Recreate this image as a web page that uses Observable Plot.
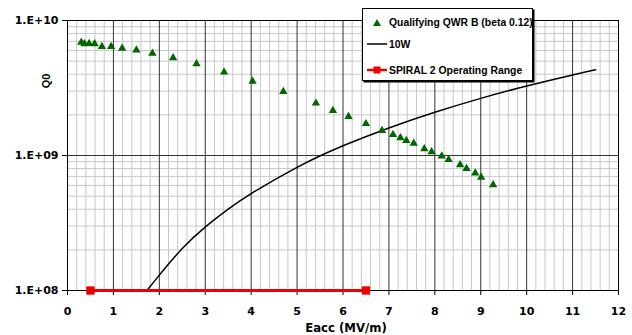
<!DOCTYPE html>
<html><head><meta charset="utf-8">
<script src="https://cdn.jsdelivr.net/npm/d3@7"></script>
<script src="https://cdn.jsdelivr.net/npm/@observablehq/plot@0.6"></script>
<style>
body{margin:0;background:#fff;}
#wrap{position:relative;width:632px;height:335px;}
#legend{position:absolute;left:362px;top:8px;width:171px;height:73px;border:1.5px solid #000;box-shadow:1.5px 1.5px 0 #000;background:#fff;box-sizing:border-box;font:bold 10.4px "Liberation Sans",Arial,sans-serif;color:#000;}
.row{position:absolute;left:2px;height:14px;display:flex;align-items:center;white-space:nowrap;}
.row svg{display:block;}
</style></head>
<body><div id="wrap"></div>
<script>
// Qualifying QWR B (beta 0.12): Eacc (MV/m) and Q0
const qwrE = [0.30,0.37,0.47,0.59,0.75,0.95,1.19,1.50,1.85,2.30,2.81,3.41,4.03,4.70,5.41,5.78,6.12,6.50,6.85,7.09,7.25,7.38,7.54,7.77,7.93,8.15,8.30,8.55,8.69,8.88,9.01,9.27];
const qwrQ = [6.9e9,6.72e9,6.75e9,6.72e9,6.42e9,6.40e9,6.23e9,6.03e9,5.72e9,5.29e9,4.78e9,4.14e9,3.55e9,2.98e9,2.44e9,2.15e9,1.94e9,1.72e9,1.53e9,1.43e9,1.35e9,1.29e9,1.23e9,1.12e9,1.065e9,9.9e8,9.34e8,8.53e8,8.01e8,7.4e8,6.9e8,6.07e8];
// 10W curve
const w10E = [1.73,2,2.5,3,3.5,4,5,6,7,8,9,10,11,11.5];
const w10Q = [1.0e8,1.30e8,2.05e8,2.95e8,4.0e8,5.22e8,8.17e8,1.18e9,1.6e9,2.09e9,2.65e9,3.27e9,3.95e9,4.31e9];
// SPIRAL 2 operating range
const opE = [0.5, 6.5];
const opQ = [1e8, 1e8];
// ticks
const xTicks = [0,1,2,3,4,5,6,7,8,9,10,11,12];
const yTicks = [1e8, 1e9, 1e10];
const yTickLabels = ["1.E+08", "1.E+09", "1.E+10"];
const seriesNames = ["Qualifying QWR B (beta 0.12)", "10W", "SPIRAL 2 Operating Range"];

const green = "#006600", red = "#ee0000";
const qwr = qwrE.map((e, i) => ({E: e, Q: qwrQ[i]}));
const w10 = w10E.map((e, i) => ({E: e, Q: w10Q[i]}));
const op = opE.map((e, i) => ({E: e, Q: opQ[i]}));

const minorX = d3.range(1, 60).map(k => k / 5).filter(v => Math.abs(v - Math.round(v)) > 1e-6);
const majorX = xTicks.slice(1, -1);
const minorY = [2,3,4,5,6,7,8,9].flatMap(m => [m * 1e8, m * 1e9]);
const majorY = yTicks.slice(1, -1);

const chart = Plot.plot({
  width: 632, height: 335,
  marginTop: 20, marginRight: 14, marginBottom: 45, marginLeft: 67,
  style: {fontFamily: "'DejaVu Sans', sans-serif", fontSize: "11px", fontWeight: "bold", color: "#000", background: "#fff", overflow: "visible"},
  x: {domain: [0, 12]},
  y: {type: "log", domain: [1e8, 1e10]},
  marks: [
    Plot.ruleX(minorX, {stroke: "#c8c8c8", strokeWidth: 1}),
    Plot.ruleY(minorY, {stroke: "#c8c8c8", strokeWidth: 1}),
    Plot.ruleX(majorX, {stroke: "#333", strokeWidth: 1}),
    Plot.ruleY(majorY, {stroke: "#333", strokeWidth: 1}),
    Plot.frame({stroke: "#000"}),
    Plot.axisX(xTicks, {tickSize: 5, tickPadding: 12, tickFormat: d => String(d), label: null, stroke: "#000"}),
    Plot.axisY(yTicks, {tickSize: 5, tickPadding: 4, tickFormat: d => yTickLabels[yTicks.indexOf(d)], label: null, stroke: "#000"}),
    Plot.line(w10, {x: "E", y: "Q", stroke: "#000", strokeWidth: 1.5, curve: "natural"}),
    Plot.line(op, {x: "E", y: "Q", stroke: red, strokeWidth: 3}),
    Plot.dot(op, {x: "E", y: "Q", symbol: "square", r: 4.7, fill: red}),
    Plot.dot(qwr, {x: "E", y: "Q", symbol: "triangle", r: 3.1, fill: green})
  ]
});

const svg = d3.select(chart);
svg.append("text").attr("x", 346).attr("y", 332).attr("text-anchor", "middle")
  .style("font-size", "11.7px").text("Eacc (MV/m)");
svg.append("text").attr("transform", "translate(50,81) rotate(-90)").attr("text-anchor", "middle")
  .style("font-family", "'Liberation Sans', Arial, sans-serif").style("font-size", "11px").text("Q0");

const wrap = document.getElementById("wrap");
wrap.appendChild(chart);

const legend = document.createElement("div");
legend.id = "legend";
const icons = [
  `<svg width="24" height="14"><path d="M12,3 L16,10 L8,10 Z" fill="${green}"/></svg>`,
  `<svg width="24" height="14"><line x1="2" y1="7" x2="22" y2="7" stroke="#000" stroke-width="1.5"/></svg>`,
  `<svg width="24" height="14"><line x1="2" y1="7" x2="22" y2="7" stroke="${red}" stroke-width="2.5"/><rect x="8.5" y="3.5" width="7" height="7" fill="${red}"/></svg>`
];
const tops = [6.5, 28, 54];
seriesNames.forEach((name, i) => {
  const row = document.createElement("div");
  row.className = "row";
  row.style.top = tops[i] + "px";
  row.innerHTML = icons[i] + `<span>${name}</span>`;
  legend.appendChild(row);
});
wrap.appendChild(legend);
</script>
</body></html>
